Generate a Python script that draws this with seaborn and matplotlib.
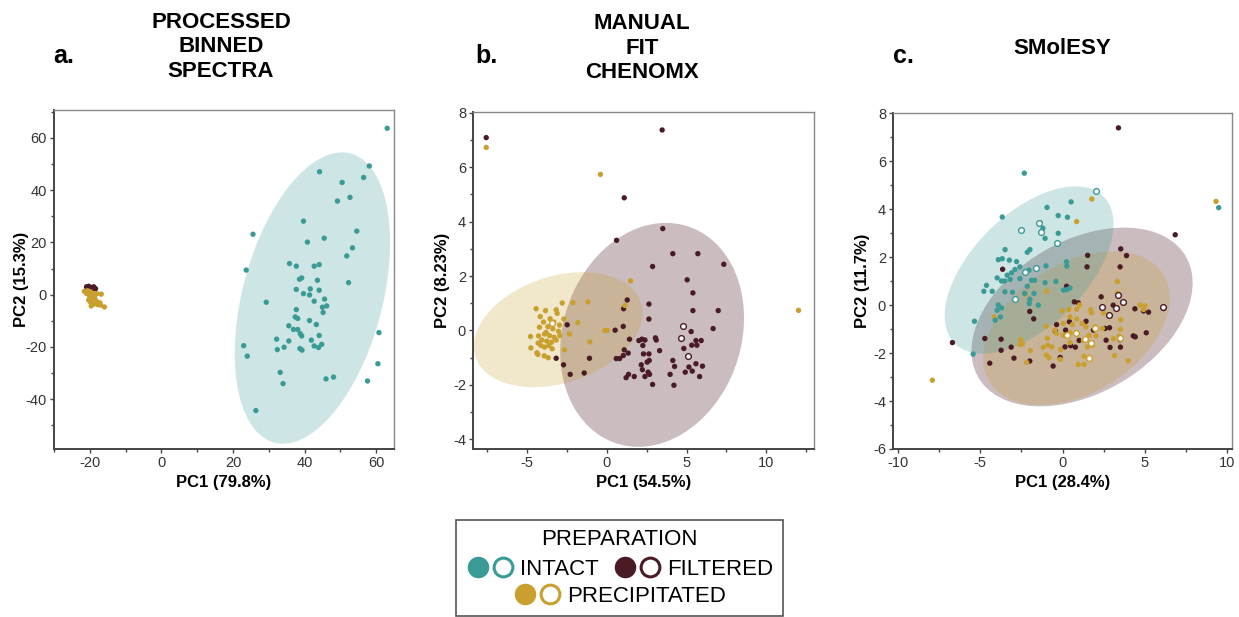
import numpy as np
import pandas as pd
import matplotlib.pyplot as plt
import seaborn as sns
from matplotlib.patches import Ellipse, Rectangle
from matplotlib.lines import Line2D
from matplotlib.legend_handler import HandlerTuple
from matplotlib.ticker import MultipleLocator

# ===============================
# Data
# ===============================

groups = ["INTACT", "FILTERED", "PRECIPITATED"]
palette = {"INTACT": "#3a9a96", "FILTERED": "#4a1a25", "PRECIPITATED": "#c9a02f"}

# a. processed binned spectra
a_int_x = [63.1, 44.2, 58.1, 56.5, 50.5, 52.7, 49.2, 39.7, 54.6, 25.6, 45.5, 40.8, 53.4, 51.8, 23.7,
           35.8, 37.7, 42.7, 44.1, 52.3, 38.6, 39.2, 43.6, 41.6, 37.7, 44.1, 39.7, 41.4, 45.6, 29.3,
           42.7, 46.2, 45.0, 37.7, 45.2, 37.4, 38.1, 41.4, 43.3, 35.6, 36.9, 38.1, 38.8, 39.2, 44.1,
           60.8, 32.2, 35.6, 41.9, 23.0, 32.4, 34.3, 38.7, 39.3, 42.7, 43.9, 44.8, 24.0, 60.5, 33.2,
           46.0, 48.1, 57.6, 34.0, 26.4]
a_int_y = [63.6, 47.0, 49.2, 44.8, 42.9, 37.2, 35.8, 28.1, 24.3, 23.1, 21.6, 20.1, 17.9, 14.8, 9.4,
           11.9, 10.9, 10.9, 11.5, 4.6, 5.9, 6.4, 5.5, 2.2, 2.0, 1.7, 0.4, -0.1, -1.7, -2.9,
           -2.5, -4.3, -4.8, -5.7, -6.8, -8.5, -9.1, -9.9, -11.4, -11.9, -13.3, -13.3, -14.9, -15.8, -15.6,
           -14.5, -17.0, -17.7, -17.4, -19.5, -21.0, -20.1, -20.6, -21.2, -19.6, -20.2, -19.0, -23.5, -26.4, -29.7,
           -32.2, -31.5, -33.0, -34.0, -44.3]
a_fil_x = [-20.9, -20.3, -19.6, -18.9, -18.4, -20.6, -19.3]
a_fil_y = [3.0, 3.2, 2.7, 3.0, 2.3, 2.1, 2.0]
a_pre_x = [-21.5, -20.6, -19.8, -19.1, -18.0, -16.8, -20.0, -19.3, -18.4, -19.8,
           -18.9, -17.8, -17.0, -15.9, -20.3, -19.6, -18.0, -20.9, -18.7, -17.2]
a_pre_y = [1.3, 1.5, 1.1, 0.4, 0.4, 0.2, -0.8, -1.5, -2.1, -2.8,
           -3.6, -3.8, -4.0, -4.7, -2.1, -4.3, -2.8, 0.4, -0.8, -3.1]
# ellipse: centre x, centre y, half-range x, half-range y, correlation
a_ell = {"INTACT": [42.2, -1.3, 21.7, 55.7, 0.38]}

# b. manual fit chenomx
b_fil_x = [-7.57, 3.47, 1.09, 3.51, 0.61, 4.14, 5.71, 7.34, 2.87, 5.04, 5.40, 1.28, 1.05, 2.64, 5.40,
           6.99, 2.64, 1.03, 6.67, 0.52, -2.49, 5.29, 2.01, 1.42, 2.20, 2.39, 3.05, 3.10, 5.59, 5.92,
           5.33, 5.65, 3.31, 1.09, 1.34, 2.26, 2.30, 2.64, 4.83, 1.03, 0.59, 0.80, -3.18, -1.09, 2.66,
           2.53, 4.14, 2.16, 2.23, 4.25, 5.15, 5.59, 6.00, -2.72, 2.59, 2.68, 2.39, 3.97, 4.92, 5.36,
           5.82, 1.36, 1.21, 1.72, -2.30, -1.42, 2.87, 4.21]
b_fil_y = [7.08, 7.36, 4.87, 3.74, 3.31, 2.82, 2.82, 2.43, 2.35, 1.86, 1.38, 1.12, 0.80, 0.97, 0.73,
           0.73, 0.42, 0.15, 0.07, 0.01, 0.21, -0.04, -0.37, -0.32, -0.32, -0.35, -0.27, -0.35, -0.37, -0.37,
           -0.54, -0.54, -0.74, -0.71, -0.83, -0.55, -0.86, -0.86, -0.66, -0.92, -1.03, -1.03, -1.02, -1.02, -1.10,
           -1.16, -1.10, -1.26, -1.44, -1.32, -1.34, -1.22, -1.31, -1.26, -1.53, -1.61, -1.69, -1.61, -1.53, -1.49,
           -1.69, -1.61, -1.73, -1.69, -1.61, -1.56, -1.98, -2.01]
b_pre_x = [-7.57, -0.40, 1.49, 12.03, -1.19, -2.13, -2.80, 1.13, -4.44, -3.85,
           -3.18, -3.12, -1.82, -2.70, -4.18, -3.56, -3.97, -3.33, -2.97, -3.70,
           -4.23, -3.39, -3.03, -3.81, -0.13, 0.02, -4.79, -4.29, -3.91, -3.60,
           -3.31, -2.95, -2.34, -4.08, -3.77, -3.47, -3.18, -4.31, -1.07, -4.77,
           -3.91, -3.43, -4.39, -2.66, -4.33, -3.93, -3.68, -4.14, -3.64]
b_pre_y = [6.72, 5.73, 1.82, 0.74, 1.05, 1.02, 1.01, 0.92, 0.80, 0.73,
           0.76, 0.63, 0.29, 0.42, 0.51, 0.43, 0.31, 0.31, 0.20, 0.14,
           0.12, 0.06, -0.03, -0.07, 0.00, 0.00, -0.22, -0.20, -0.13, -0.19,
           -0.25, -0.19, -0.13, -0.35, -0.39, -0.43, -0.35, -0.46, -0.42, -0.64,
           -0.61, -0.67, -0.82, -0.71, -0.88, -0.93, -1.00, -0.55, -0.55]
b_fil_open_x = [4.79, 4.64, 5.10]
b_fil_open_y = [0.15, -0.27, -0.92]
b_pre_open_x = [-3.43]
b_pre_open_y = [0.26]
b_ell = {"FILTERED": [2.84, -0.16, 5.77, 4.11, 0.15],
         "PRECIPITATED": [-3.05, 0.03, 5.30, 2.11, 0.29]}

# c. SMolESY
c_int_x = [-2.32, 0.52, -0.94, -3.66, -0.26, 0.30, -1.35, -1.19, -0.26, -1.06,
           -3.49, -1.98, -3.66, -2.14, -3.23, -2.79, -3.90, -1.00, 0.24, 0.26,
           -2.59, -2.89, -2.04, -3.10, -3.36, -3.97, -3.71, -3.51, -3.18, -2.59,
           -1.88, -1.70, -0.40, -1.06, -2.14, -4.62, -4.78, -4.27, -3.50, -3.04,
           -2.30, -1.73, 0.06, 0.26, 0.46, -2.02, -1.98, -3.91, -3.71, -3.97,
           -1.47, -3.77, -4.09, -5.35, -5.43, 9.49]
c_int_y = [5.51, 4.31, 4.08, 3.68, 3.74, 3.67, 3.44, 3.21, 3.00, 2.79,
           2.32, 2.32, 1.94, 2.21, 1.88, 1.82, 1.90, 1.64, 1.81, 1.63,
           1.60, 1.49, 1.46, 1.35, 1.25, 1.14, 1.01, 1.01, 1.08, 1.11,
           1.04, 1.04, 0.99, 0.94, 0.79, 0.83, 0.58, 0.58, 0.56, 0.54,
           0.49, 0.49, 0.63, 0.65, 0.72, 0.07, 0.25, 0.01, -0.11, -0.21,
           0.00, -0.49, -0.63, -0.67, -2.04, 4.07]
c_fil_x = [3.40, 6.85, 3.54, 3.89, 1.53, 3.50, -3.64, 1.49, 0.25, 2.35,
           0.72, 0.96, 3.08, 4.40, 4.92, 5.23, 6.14, -1.99, -1.75, 1.43,
           1.88, -0.36, 0.42, 0.19, -0.44, 2.59, 2.86, 4.42, 4.30, 5.09,
           1.01, 2.65, 3.50, -4.72, -3.73, -6.69, 0.78, 0.15, 0.50, 2.89,
           3.52, -3.12, -3.73, -2.95, -1.99, -0.14, -0.57, -4.42]
c_fil_y = [7.40, 2.94, 2.35, 2.07, 2.08, 1.60, 1.50, 1.60, 0.79, 0.35,
           0.14, 0.10, 0.00, -0.15, -0.24, -0.29, -0.14, -0.26, -0.57, -0.67,
           -1.04, -0.81, -0.69, -1.04, -1.08, -0.97, -0.94, -1.32, -1.28, -1.15,
           -1.47, -1.46, -1.44, -1.39, -1.42, -1.56, -1.75, -1.74, -1.69, -1.76,
           -1.75, -1.75, -1.88, -2.21, -2.33, -2.18, -2.54, -2.42]
c_pre_x = [-7.91, 9.33, 1.78, 0.86, 3.34, -0.96, -2.26, -4.11, 3.34, -0.03,
           0.38, 0.86, 1.03, 1.72, 1.76, 2.49, 3.54, 4.72, 5.01, 4.92,
           0.46, 0.86, -1.00, 0.05, 0.60, 1.19, 1.43, 1.98, 2.43, 3.52,
           -0.48, -0.36, 0.05, 0.46, -0.92, 1.61, 2.04, 3.10, 3.44, -2.55,
           -2.43, -2.59, -1.17, -0.90, -0.64, -0.11, 1.51, 1.82, -1.96, -0.98,
           -0.82, -0.13, 1.31, 3.16, 3.99, -2.18, 0.96, 1.31, 0.46, 1.27, -4.15]
c_pre_y = [-3.13, 4.33, 4.43, 3.49, 0.99, 0.58, 0.46, -0.53, 0.51, -0.24,
           -0.18, -0.17, 0.01, -0.19, -0.31, -0.32, -0.61, 0.01, -0.03, -0.18,
           -0.49, -0.58, -0.88, -0.76, -0.81, -0.76, -0.90, -0.90, -0.97, -1.01,
           -1.04, -1.18, -1.25, -1.15, -1.38, -1.26, -1.28, -1.40, -1.29, -1.43,
           -1.61, -1.64, -1.76, -1.67, -1.74, -1.85, -1.74, -1.67, -1.90, -2.08,
           -2.19, -2.26, -2.13, -2.10, -2.32, -2.39, -2.47, -2.47, -1.56, -1.46, -0.49]
c_int_open_x = [2.06, -1.41, -2.53, -1.28, -0.33, -1.63, -2.28, -2.89]
c_int_open_y = [4.78, 3.44, 3.13, 3.06, 2.61, 1.56, 1.39, 0.25]
c_fil_open_x = [3.38, 3.67, 3.24, 2.39, 2.82, 6.12]
c_fil_open_y = [0.44, 0.15, -0.10, -0.07, -0.42, -0.07]
c_pre_open_x = [0.82, 0.25, 1.35, 1.74, 1.98, 1.63, 3.50]
c_pre_open_y = [-1.14, -1.26, -1.39, -1.57, -0.94, -2.19, -1.36]
c_ell = {"FILTERED": [1.19, -0.49, 6.72, 3.73, 0.38],
         "PRECIPITATED": [0.85, -0.96, 5.67, 3.21, 0.39],
         "INTACT": [-2.03, 1.47, 5.13, 3.49, 0.55]}


def to_df(parts):
    frames = []
    for prep, xs, ys in parts:
        frames.append(pd.DataFrame({"PC1": xs, "PC2": ys, "prep": prep}))
    return pd.concat(frames, ignore_index=True)


a_filled = to_df([("INTACT", a_int_x, a_int_y), ("FILTERED", a_fil_x, a_fil_y),
                  ("PRECIPITATED", a_pre_x, a_pre_y)])
b_filled = to_df([("FILTERED", b_fil_x, b_fil_y), ("PRECIPITATED", b_pre_x, b_pre_y)])
b_open = to_df([("FILTERED", b_fil_open_x, b_fil_open_y),
                ("PRECIPITATED", b_pre_open_x, b_pre_open_y)])
c_filled = to_df([("FILTERED", c_fil_x, c_fil_y), ("PRECIPITATED", c_pre_x, c_pre_y),
                  ("INTACT", c_int_x, c_int_y)])
c_open = to_df([("INTACT", c_int_open_x, c_int_open_y), ("FILTERED", c_fil_open_x, c_fil_open_y),
                ("PRECIPITATED", c_pre_open_x, c_pre_open_y)])

# ===============================
# Style
# ===============================

sns.set_theme(style="ticks")
plt.rcParams["font.family"] = ["Liberation Sans", "DejaVu Sans"]
plt.rcParams["axes.unicode_minus"] = False
plt.rcParams["text.color"] = "black"
plt.rcParams["axes.labelcolor"] = "black"

ell_alpha = {"INTACT": 0.25, "FILTERED": 0.29, "PRECIPITATED": 0.25}


def draw_panel(ax, filled, hollow, ellipses, xlim, ylim, xstep, ystep, xlabel, ylabel, ypad):
    for prep, (cx, cy, hx, hy, rho) in ellipses.items():
        cov = np.array([[hx ** 2, rho * hx * hy], [rho * hx * hy, hy ** 2]])
        vals, vecs = np.linalg.eigh(cov)
        angle = np.degrees(np.arctan2(vecs[1, 1], vecs[0, 1]))
        ax.add_patch(Ellipse((cx, cy), 2 * np.sqrt(vals[1]), 2 * np.sqrt(vals[0]), angle=angle,
                             facecolor=palette[prep], alpha=ell_alpha[prep], lw=0, zorder=1))
    sns.scatterplot(data=filled, x="PC1", y="PC2", hue="prep", palette=palette, s=15,
                    linewidth=0, legend=False, ax=ax, zorder=3)
    if hollow is not None:
        for prep, grp in hollow.groupby("prep"):
            sns.scatterplot(data=grp, x="PC1", y="PC2", color="white", edgecolor=palette[prep],
                            s=17, linewidth=1.0, legend=False, ax=ax, zorder=4)
    ax.set_xlim(xlim)
    ax.set_ylim(ylim)
    ax.xaxis.set_major_locator(MultipleLocator(xstep))
    ax.xaxis.set_minor_locator(MultipleLocator(xstep / 2))
    ax.yaxis.set_major_locator(MultipleLocator(ystep))
    ax.yaxis.set_minor_locator(MultipleLocator(ystep / 2))
    ax.tick_params(which="major", direction="out", length=3, width=1, color="#444444",
                   labelcolor="#333333", labelsize=10.5, pad=2)
    ax.tick_params(which="minor", direction="out", length=2, width=1, color="#444444")
    for side in ["top", "right"]:
        ax.spines[side].set_color("#888888")
        ax.spines[side].set_linewidth(1.0)
    for side in ["bottom", "left"]:
        ax.spines[side].set_color("#444444")
        ax.spines[side].set_linewidth(1.4)
    ax.set_xlabel(xlabel, fontsize=12, fontweight="bold", labelpad=4)
    ax.set_ylabel(ylabel, fontsize=12, fontweight="bold", labelpad=ypad)


# ===============================
# Figure
# ===============================

W, H = 1239, 617
fig = plt.figure(figsize=(W / 100, H / 100), dpi=100)


def px_axes(x0, y0, x1, y1):
    return fig.add_axes([x0 / W, (H - y1) / H, (x1 - x0) / W, (y1 - y0) / H])


ax_a = px_axes(54, 110, 394, 449)
ax_b = px_axes(473, 112, 814, 449)
ax_c = px_axes(893, 113, 1232, 449)

draw_panel(ax_a, a_filled, None, a_ell, (-30, 65), (-59, 70.6), 20, 20,
           "PC1 (79.8%)", "PC2 (15.3%)", -2)
draw_panel(ax_b, b_filled, b_open, b_ell, (-8.4, 13), (-4.35, 8.02), 5, 2,
           "PC1 (54.5%)", "PC2 (8.23%)", 2)
draw_panel(ax_c, c_filled, c_open, c_ell, (-10.3, 10.3), (-6, 8.02), 5, 2,
           "PC1 (28.4%)", "PC2 (11.7%)", 2)

# panel titles
title_kw = dict(fontsize=16, fontweight="bold", ha="center", va="center", linespacing=1.2)
fig.text(221 / W, 1 - 47 / H, "PROCESSED\nBINNED\nSPECTRA", **title_kw)
fig.text(642 / W, 1 - 48 / H, "MANUAL\nFIT\nCHENOMX", **title_kw)
fig.text(1062 / W, 1 - 48 / H, "SMolESY", **title_kw)
for x, lab in [(53, "a."), (475, "b."), (893, "c.")]:
    fig.text(x / W, 1 - 63 / H, lab, fontsize=18, fontweight="bold", ha="left", va="baseline")

# ===============================
# Legend
# ===============================

fig.add_artist(Rectangle((456 / W, 0.002), 327 / W, (H - 521) / H, transform=fig.transFigure,
                         facecolor="none", edgecolor="#555555", lw=1.2))


def pair(prep):
    full = Line2D([], [], marker="o", ls="", ms=15.5, mfc=palette[prep], mec=palette[prep], mew=0)
    hollow = Line2D([], [], marker="o", ls="", ms=13.5, mfc="white", mec=palette[prep], mew=2.2)
    return (full, hollow)


leg_kw = dict(handler_map={tuple: HandlerTuple(ndivide=None, pad=0)}, frameon=False, fontsize=16,
              handlelength=2.25, handletextpad=0.2, columnspacing=0.6, borderpad=0,
              bbox_transform=fig.transFigure, loc="upper center")
leg1 = fig.legend([pair("INTACT"), pair("FILTERED")], ["INTACT", "FILTERED"], ncol=2,
                  title="PREPARATION", title_fontsize=16, labelspacing=0.4,
                  bbox_to_anchor=(619.5 / W, (H - 518) / H), **leg_kw)
leg2 = fig.legend([pair("PRECIPITATED")], ["PRECIPITATED"], ncol=1,
                  bbox_to_anchor=(619.5 / W, (H - 575) / H), **leg_kw)

plt.savefig("out.png", dpi=100)
